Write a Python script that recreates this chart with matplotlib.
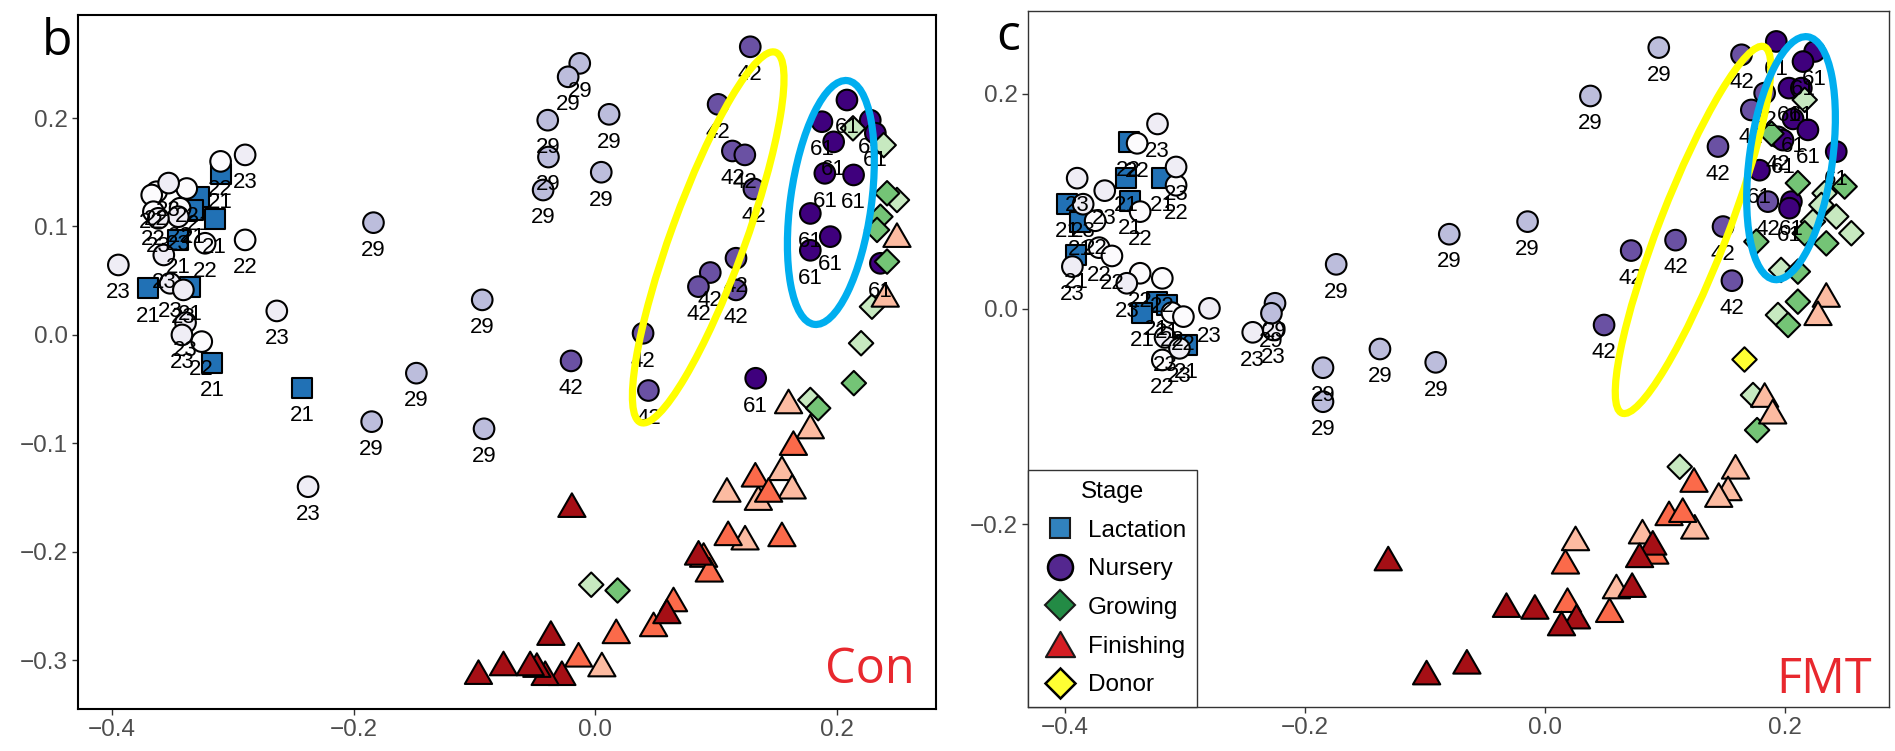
import matplotlib
matplotlib.use("Agg")
import matplotlib.pyplot as plt
from matplotlib.patches import Ellipse
from matplotlib.transforms import ScaledTranslation
from matplotlib.lines import Line2D
from matplotlib.path import Path

plt.rcParams['font.family'] = ['Liberation Sans', 'DejaVu Sans']

# ---------------- data: panel b (Con) ----------------
con_lact_x = [-0.310, -0.328, -0.3325, -0.315, -0.345, -0.370, -0.335, -0.3168, -0.2423]
con_lact_y = [0.148, 0.1275, 0.115, 0.1066, 0.0876, 0.043, 0.0445, -0.026, -0.049]
con_lact_age = [21, 21, 21, 21, 21, 21, 21, 21, 21]

con_nur_x = [-0.2897, -0.310, -0.353, -0.338, -0.363, -0.367, -0.3656, -0.3435, -0.345, -0.3615,
             -0.3228, -0.2897, -0.357, -0.3946, -0.3518, -0.3408, -0.2635, -0.339, -0.342, -0.3256, -0.2376,
             -0.0128, -0.0224, 0.0115, -0.0393, -0.0387, 0.005, -0.0431, -0.0935, -0.148, -0.092, -0.1835, -0.185,
             -0.020, 0.0396, 0.044, 0.1283, 0.1017, 0.1135, 0.1238, 0.1313, 0.1165, 0.0952, 0.0854, 0.1165,
             0.1328, 0.2083, 0.1876, 0.2276, 0.1973, 0.190, 0.2138, 0.178, 0.1945, 0.178, 0.236, 0.2318]
con_nur_y = [0.166, 0.160, 0.140, 0.135, 0.132, 0.129, 0.1136, 0.1168, 0.109, 0.1075,
             0.0845, 0.0876, 0.0737, 0.0645, 0.0476, 0.0415, 0.0221, 0.0113, 0.0, -0.0062, -0.140,
             0.2504, 0.238, 0.2034, 0.198, 0.164, 0.150, 0.1336, 0.0323, -0.0353, -0.0866, 0.1035, -0.080,
             -0.024, 0.0015, -0.0513, 0.2657, 0.2126, 0.1696, 0.166, 0.1346, 0.0707, 0.0575, 0.0445, 0.0415,
             -0.040, 0.2166, 0.1966, 0.198, 0.178, 0.149, 0.1475, 0.112, 0.0906, 0.078, 0.066, 0.186]
con_nur_age = [23, 22, 23, 22, 22, 22, 22, 22, 23, 23,
               22, 22, 23, 23, 23, 23, 23, 23, 23, 22, 23,
               29, 29, 29, 29, 29, 29, 29, 29, 29, 29, 29, 29,
               42, 42, 42, 42, 42, 42, 42, 42, 42, 42, 42, 42,
               61, 61, 61, 61, 61, 61, 61, 61, 61, 61, 61, 61]

con_grow_x = [0.2133, 0.2387, 0.2497, 0.229, 0.220, 0.178, -0.0033,
              0.2415, 0.236, 0.2332, 0.2415, 0.214, 0.1845, 0.0185]
con_grow_y = [0.1905, 0.175, 0.1244, 0.026, -0.0077, -0.060, -0.2304,
              0.1306, 0.109, 0.0968, 0.0676, -0.0445, -0.0676, -0.2357]
con_grow_lvl = [1, 1, 1, 1, 1, 1, 1, 2, 2, 2, 2, 2, 2, 2]

con_fin_x = [0.2497, 0.240, 0.160, 0.178, 0.1545, 0.109, 0.163, 0.135, 0.124, 0.0055,
             0.164, 0.1325, 0.1435, 0.110, 0.1545, 0.0897, 0.0944, 0.0648, 0.0483, 0.0174, -0.0138,
             -0.0193, 0.0855, 0.0593, -0.0367, -0.0276, -0.0414, -0.0483, -0.0538, -0.0759, -0.0966]
con_fin_y = [0.092, 0.0369, -0.0614, -0.0845, -0.123, -0.143, -0.140, -0.1505, -0.187, -0.304,
             -0.0998, -0.129, -0.143, -0.183, -0.184, -0.203, -0.2166, -0.244, -0.267, -0.2734, -0.295,
             -0.157, -0.201, -0.255, -0.275, -0.312, -0.312, -0.3045, -0.303, -0.303, -0.311]
con_fin_lvl = [1, 1, 1, 1, 1, 1, 1, 1, 1, 1,
               2, 2, 2, 2, 2, 2, 2, 2, 2, 2, 2,
               3, 3, 3, 3, 3, 3, 3, 3, 3, 3]

# ---------------- data: panel c (FMT) ----------------
fmt_lact_x = [-0.347, -0.349, -0.319, -0.3986, -0.346, -0.3875, -0.391, -0.3236, -0.336, -0.315, -0.2986]
fmt_lact_y = [0.155, 0.122, 0.1216, 0.098, 0.1005, 0.081, 0.050, 0.0068, -0.0034, 0.0037, -0.0335]
fmt_lact_age = [22, 21, 21, 21, 21, 21, 21, 21, 21, 21, 21]

fmt_nur_x = [-0.323, -0.340, -0.3075, -0.3075, -0.390, -0.367, -0.385, -0.3375, -0.375, -0.3717, -0.361,
             -0.394, -0.3375, -0.3486, -0.319, -0.311, -0.3014, -0.2797, -0.3167, -0.3047, -0.319, -0.2436, -0.2264,
             -0.225, -0.228, -0.174, -0.1375, -0.185, -0.185, 0.095, 0.038, -0.0144, -0.0797, -0.091,
             0.164, 0.1833, 0.1722, 0.1944, 0.1444, 0.186, 0.1486, 0.156, 0.109, 0.072, 0.0494,
             0.193, 0.225, 0.2153, 0.2036, 0.2139, 0.207, 0.2194, 0.1986, 0.243, 0.179, 0.2056, 0.204]
fmt_nur_y = [0.172, 0.154, 0.132, 0.115, 0.1216, 0.110, 0.0974, 0.0905, 0.082, 0.057, 0.0493,
             0.0394, 0.0332, 0.0239, 0.0285, -0.0034, -0.0071, 0.0006, -0.0264, -0.0366, -0.0474, -0.0217, -0.0195,
             0.0053, -0.004, 0.0415, -0.0372, -0.0546, -0.0862, 0.243, 0.198, 0.0812, 0.0695, -0.0496,
             0.2363, 0.2007, 0.185, 0.160, 0.151, 0.0998, 0.0766, 0.0263, 0.064, 0.0543, -0.0149,
             0.2487, 0.2394, 0.230, 0.2053, 0.2053, 0.1767, 0.1665, 0.157, 0.1463, 0.129, 0.0998, 0.0937]
fmt_nur_age = [23, 22, 23, 22, 23, 23, 23, 22, 22, 22, 22,
               23, 22, 23, 22, 22, 22, 23, 23, 23, 22, 23, 23,
               29, 29, 29, 29, 29, 29, 29, 29, 29, 29, 29,
               42, 42, 42, 42, 42, 42, 42, 42, 42, 42, 42,
               61, 61, 61, 61, 61, 61, 61, 61, 61, 61, 61, 61]

fmt_grow_x = [0.2167, 0.2333, 0.243, 0.2556, 0.2236, 0.2306, 0.197, 0.1944, 0.1736, 0.1125,
              0.189, 0.211, 0.250, 0.2347, 0.2167, 0.1764, 0.211, 0.211, 0.2028, 0.177]
fmt_grow_y = [0.1944, 0.1076, 0.0859, 0.0704, 0.0812, 0.0967, 0.0363, -0.0056, -0.080, -0.1467,
              0.163, 0.117, 0.1138, 0.061, 0.0704, 0.0626, 0.0347, 0.0068, -0.0149, -0.1126]
fmt_grow_lvl = [1, 1, 1, 1, 1, 1, 1, 1, 1, 1,
                2, 2, 2, 2, 2, 2, 2, 2, 2, 2]

fmt_fin_x = [0.2347, 0.2278, 0.1833, 0.190, 0.159, 0.1528, 0.145, 0.125, 0.0814, 0.0256, 0.0597,
             0.1244, 0.1036, 0.115, 0.0917, 0.0172, 0.054, 0.0189,
             0.090, 0.079, 0.0728, 0.0264, 0.0139, -0.032, -0.0083, -0.065, -0.0986, -0.1306]
fmt_fin_y = [0.013, -0.004, -0.080, -0.0955, -0.1467, -0.1668, -0.173, -0.2025, -0.207, -0.2133, -0.258,
             -0.159, -0.190, -0.187, -0.2258, -0.235, -0.280, -0.2707,
             -0.2174, -0.229, -0.2567, -0.286, -0.2924, -0.2753, -0.2770, -0.328, -0.338, -0.232]
fmt_fin_lvl = [1, 1, 1, 1, 1, 1, 1, 1, 1, 1, 1,
               2, 2, 2, 2, 2, 2, 2,
               3, 3, 3, 3, 3, 3, 3, 3, 3, 3]

fmt_donor_x = [0.166]
fmt_donor_y = [-0.0468]

x_ticks = [-0.4, -0.2, 0.0, 0.2]
x_tick_labels = ['\u22120.4', '\u22120.2', '0.0', '0.2']
con_y_ticks = [-0.3, -0.2, -0.1, 0.0, 0.1, 0.2]
con_y_tick_labels = ['\u22120.3', '\u22120.2', '\u22120.1', '0.0', '0.1', '0.2']
fmt_y_ticks = [-0.2, 0.0, 0.2]
fmt_y_tick_labels = ['\u22120.2', '0.0', '0.2']

legend_labels = ['Lactation', 'Nursery', 'Growing', 'Finishing', 'Donor']

# ---------------- styles ----------------
LACT_COLOR = '#2171b5'
NUR_COLORS = {22: '#fcfbfd', 23: '#efedf5', 29: '#bcbddc', 42: '#6a51a3', 61: '#3f007d'}
GROW_COLORS = {1: '#c7e9c0', 2: '#74c476'}
FIN_COLORS = {1: '#fcbba1', 2: '#fb6a4a', 3: '#a50f15'}
DONOR_COLOR = '#ffff33'
TRI = Path([(0, 0.866), (-1, -0.866), (1, -0.866), (0, 0.866)],
           [Path.MOVETO, Path.LINETO, Path.LINETO, Path.CLOSEPOLY])
EW = 1.5

fig = plt.figure(figsize=(18.95, 7.51), dpi=100)
ax1 = fig.add_axes([78 / 1895, 1 - 709 / 751, (936 - 78) / 1895, (709 - 15) / 751])
ax2 = fig.add_axes([1028 / 1895, 1 - 707 / 751, (1889 - 1028) / 1895, (707 - 11) / 751])


def draw_panel(ax, lx, ly, lage, nx, ny, nage, gx, gy, glvl, fx, fy, flvl, dx=None, dy=None):
    ax.scatter(lx, ly, marker='s', s=195, c=LACT_COLOR, edgecolors='black', linewidths=EW, zorder=2)
    order = sorted(range(len(nx)), key=lambda i: nage[i])
    ax.scatter([nx[i] for i in order], [ny[i] for i in order], marker='o', s=220,
               c=[NUR_COLORS[nage[i]] for i in order], edgecolors='black', linewidths=EW, zorder=3)
    order = sorted(range(len(gx)), key=lambda i: glvl[i])
    ax.scatter([gx[i] for i in order], [gy[i] for i in order], marker='D', s=155,
               c=[GROW_COLORS[glvl[i]] for i in order], edgecolors='black', linewidths=EW, zorder=4)
    if dx is not None:
        ax.scatter(dx, dy, marker='D', s=155, c=DONOR_COLOR, edgecolors='black', linewidths=EW, zorder=4)
    order = sorted(range(len(fx)), key=lambda i: flvl[i])
    ax.scatter([fx[i] for i in order], [fy[i] for i in order], marker=TRI, s=385,
               c=[FIN_COLORS[flvl[i]] for i in order], edgecolors='black', linewidths=EW, zorder=5)
    for x, y, a in list(zip(lx, ly, lage)) + list(zip(nx, ny, nage)):
        ax.annotate(str(a), (x, y), xytext=(0, -20), textcoords='offset points',
                    ha='center', va='center', fontsize=16, color='black', zorder=6)


draw_panel(ax1, con_lact_x, con_lact_y, con_lact_age, con_nur_x, con_nur_y, con_nur_age,
           con_grow_x, con_grow_y, con_grow_lvl, con_fin_x, con_fin_y, con_fin_lvl)
draw_panel(ax2, fmt_lact_x, fmt_lact_y, fmt_lact_age, fmt_nur_x, fmt_nur_y, fmt_nur_age,
           fmt_grow_x, fmt_grow_y, fmt_grow_lvl, fmt_fin_x, fmt_fin_y, fmt_fin_lvl,
           fmt_donor_x, fmt_donor_y)

ax1.set_xlim(-0.428, 0.282)
ax1.set_ylim(-0.345, 0.295)
ax2.set_xlim(-0.431, 0.287)
ax2.set_ylim(-0.370, 0.277)

ax1.set_xticks(x_ticks, x_tick_labels)
ax1.set_yticks(con_y_ticks, con_y_tick_labels)
ax2.set_xticks(x_ticks, x_tick_labels)
ax2.set_yticks(fmt_y_ticks, fmt_y_tick_labels)

for ax, ec, lw in ((ax1, 'black', 1.5), (ax2, '#333333', 1.0)):
    ax.tick_params(labelsize=17.5, labelcolor='#4d4d4d', length=4, width=1, color='#333333', pad=3)
    for sp in ax.spines.values():
        sp.set_color(ec)
        sp.set_linewidth(lw)
    ax.set_facecolor('white')

# highlighted ellipses (centre in data units, size in pixels)
ellipses = [
    (ax1, 0.0935, 0.0899, 394, 74, 70.0, '#ffff00'),
    (ax1, 0.1950, 0.1221, 246, 81, 82.2, '#00aeef'),
    (ax2, 0.1236, 0.0735, 393, 68, 68.8, '#ffff00'),
    (ax2, 0.2053, 0.1402, 245, 83, 82.2, '#00aeef'),
]
for ax, xc, yc, w, h, ang, col in ellipses:
    e = Ellipse((0, 0), w / 100, h / 100, angle=ang, fill=False, edgecolor=col, linewidth=5.2,
                transform=fig.dpi_scale_trans + ScaledTranslation(xc, yc, ax.transData), zorder=7)
    ax.add_patch(e)

ax1.text(0.9755, 0.0375, 'Con', transform=ax1.transAxes, ha='right', va='baseline',
         fontsize=35, color='#e8282e', family='Open Sans', zorder=8)
ax2.text(0.980, 0.020, 'FMT', transform=ax2.transAxes, ha='right', va='baseline',
         fontsize=35, color='#e8282e', family='Open Sans', zorder=8)

fig.text(57 / 1895, 1 - 55 / 751, 'b', fontsize=36, family='Open Sans', ha='center', va='baseline')
fig.text(1008 / 1895, 1 - 50 / 751, 'c', fontsize=36, family='Open Sans', ha='center', va='baseline')

handles = [
    Line2D([], [], ls='', marker='s', markersize=14.4, mfc='#3182bd', mec='#1a1a1a', mew=1.5),
    Line2D([], [], ls='', marker='o', markersize=18, mfc='#54278f', mec='black', mew=1.8),
    Line2D([], [], ls='', marker='D', markersize=14.8, mfc='#238b45', mec='#1a1a1a', mew=1.5),
    Line2D([], [], ls='', marker=TRI, markersize=21, mfc='#d41e24', mec='#1a1a1a', mew=1.5),
    Line2D([], [], ls='', marker='D', markersize=14.8, mfc='#ffff33', mec='black', mew=1.8),
]
leg = ax2.legend(handles, legend_labels, title='Stage', loc='lower left', bbox_to_anchor=(0, 0),
                 borderaxespad=0, fontsize=17.5, title_fontsize=17.5, frameon=True, fancybox=False,
                 edgecolor='#333333', framealpha=1, borderpad=0.45, labelspacing=0.68,
                 handlelength=1.75, handletextpad=0.25)
leg.get_frame().set_linewidth(1.0)
leg.set_zorder(10)

fig.savefig('out.png', dpi=100, facecolor='white')
